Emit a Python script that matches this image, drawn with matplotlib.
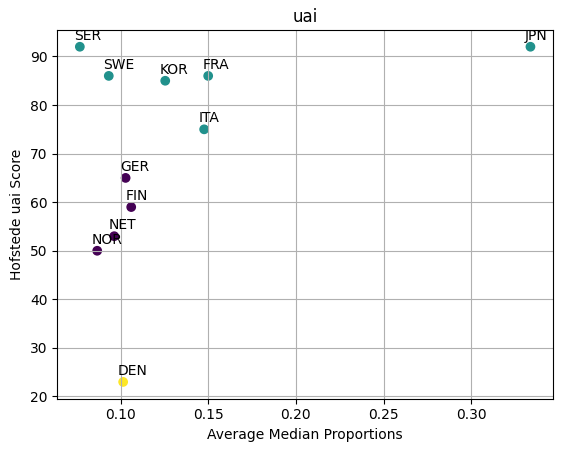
import matplotlib
matplotlib.use("Agg")
import matplotlib.pyplot as plt

# country codes, x = average median proportion, y = hofstede uai, cluster id
countries = ["SER", "SWE", "KOR", "FRA", "ITA", "JPN",
             "GER", "FIN", "NET", "NOR", "DEN"]
avg_median = [0.0768, 0.0933, 0.1255, 0.1500, 0.1477, 0.3338,
              0.1029, 0.1061, 0.0964, 0.0867, 0.1015]
uai = [92, 86, 85, 86, 75, 92, 65, 59, 53, 50, 23]
cluster = [1, 1, 1, 1, 1, 1, 0, 0, 0, 0, 2]

fig = plt.figure(figsize=(5.63, 4.53), dpi=100)
ax = fig.add_axes([0.1018, 0.1199, 0.8804, 0.8139])

ax.scatter(avg_median, uai, c=cluster, cmap="viridis")
for name, x, y in zip(countries, avg_median, uai):
    ax.annotate(name, (x, y), textcoords="offset points", xytext=(-4, 5))

ax.set_title("uai")
ax.set_xlabel("Average Median Proportions")
ax.set_ylabel("Hofstede uai Score")
ax.grid(True)

fig.savefig("out.png")
